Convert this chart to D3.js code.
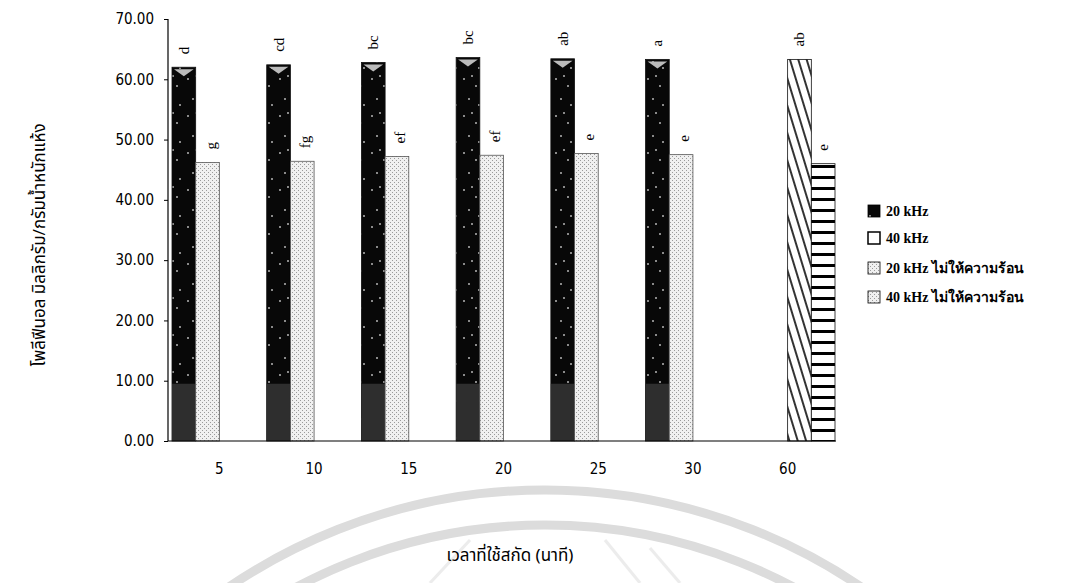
<!DOCTYPE html>
<html><head><meta charset="utf-8">
<script src="https://cdn.jsdelivr.net/npm/d3@7"></script>
<style>
body{margin:0;background:#fff;}
svg{display:block;}
</style></head>
<body>
<svg id="chart" width="1077" height="583"></svg>
<script>
// ---- data ----
const categories = ["5","10","15","20","25","30","60"];
const seriesNames = ["20 kHz","40 kHz","20 kHz ไม่ให้ความร้อน","40 kHz ไม่ให้ความร้อน"];
const values20 = [62.0, 62.4, 62.8, 63.6, 63.4, 63.3, null];
const values40 = [46.2, 46.4, 47.2, 47.4, 47.7, 47.5, null];
const values20NoHeat = [null, null, null, null, null, null, 63.3];
const values40NoHeat = [null, null, null, null, null, null, 46.0];
const labels20 = ["d","cd","bc","bc","ab","a",""];
const labels40 = ["g","fg","ef","ef","e","e",""];
const labels20NoHeat = ["","","","","","","ab"];
const labels40NoHeat = ["","","","","","","e"];
const yTicks = [0,10,20,30,40,50,60,70];
const yTitle = "โพลีฟีนอล มิลลิกรัม/กรัมน้ำหนักแห้ง";
const xTitle = "เวลาที่ใช้สกัด (นาที)";

const allValues = [values20, values40, values20NoHeat, values40NoHeat];
const allLabels = [labels20, labels40, labels20NoHeat, labels40NoHeat];

const svg = d3.select("#chart");
const defs = svg.append("defs");

// patterns
const pDark = defs.append("pattern").attr("id","pDark").attr("patternUnits","userSpaceOnUse").attr("width",23).attr("height",37);
pDark.append("rect").attr("width",23).attr("height",37).attr("fill","#080808");
[[3,4],[15,11],[8,24],[18,30],[11,1]].forEach(([x,y])=>pDark.append("rect").attr("x",x).attr("y",y).attr("width",2).attr("height",2).attr("fill","#8a8a8a"));

const pLight = defs.append("pattern").attr("id","pLight").attr("patternUnits","userSpaceOnUse").attr("width",4).attr("height",4);
pLight.append("rect").attr("width",4).attr("height",4).attr("fill","#f0f0f0");
[[0,0],[2,2]].forEach(([x,y])=>pLight.append("rect").attr("x",x).attr("y",y).attr("width",1).attr("height",1).attr("fill","#9a9a9a"));

const pDiag = defs.append("pattern").attr("id","pDiag").attr("patternUnits","userSpaceOnUse").attr("width",8).attr("height",10)
  .attr("patternTransform","rotate(-17)");
pDiag.append("rect").attr("width",8).attr("height",10).attr("fill","#fff");
pDiag.append("line").attr("x1",2).attr("y1",0).attr("x2",2).attr("y2",10).attr("stroke","#000").attr("stroke-width",1.6);

const pHoriz = defs.append("pattern").attr("id","pHoriz").attr("patternUnits","userSpaceOnUse").attr("width",10).attr("height",11);
pHoriz.append("rect").attr("width",10).attr("height",11).attr("fill","#fff");
pHoriz.append("rect").attr("y",0).attr("width",10).attr("height",3).attr("fill","#000");

const fills = ["url(#pDark)","url(#pLight)","url(#pDiag)","url(#pHoriz)"];
const legendFills = ["url(#pDark)","#fff","url(#pLight)","url(#pLight)"];

// watermark arcs
const wm = svg.append("g").attr("fill","none").attr("stroke","#dcdcdc");
wm.append("circle").attr("cx",545).attr("cy",1053).attr("r",563).attr("stroke-width",9);
wm.append("circle").attr("cx",545).attr("cy",1053).attr("r",528).attr("stroke-width",9);
[[430,583,470,540],[640,583,605,540],[680,583,650,548]].forEach(([x1,y1,x2,y2])=>
  wm.append("line").attr("x1",x1).attr("y1",y1).attr("x2",x2).attr("y2",y2).attr("stroke-width",3).attr("stroke","#ececec"));

// scales
const x = d3.scaleBand().domain(categories).range([172, 835]).padding(0);
const xs = d3.scaleBand().domain(d3.range(4)).range([0, x.bandwidth()]).padding(0);
const y = d3.scaleLinear().domain([0,70]).range([441,19]);

// bars
const g = svg.append("g");
allValues.forEach((vals, si) => {
  categories.forEach((c, ci) => {
    const v = vals[ci];
    if (v == null) return;
    const bx = x(c) + xs(si), bw = xs.bandwidth();
    g.append("rect").attr("x",bx).attr("y",y(v)).attr("width",bw).attr("height",y(0)-y(v))
      .attr("fill",fills[si]).attr("stroke", si===1 ? "#555" : "#111").attr("stroke-width",0.8);
    if (si === 0) {
      g.append("rect").attr("x",bx).attr("y",y(9.5)).attr("width",bw).attr("height",y(0)-y(9.5)).attr("fill","#2e2e2e");
      g.append("path").attr("d",`M${bx+2},${y(v)+2}L${bx+bw-2},${y(v)+2}L${bx+bw/2},${y(v)+9}Z`).attr("fill","#bbb");
    }
    const lab = allLabels[si][ci];
    if (lab) {
      g.append("text").attr("transform",`translate(${bx+bw/2 + (si===1?3:0)},${y(v)-13}) rotate(-90)`)
        .attr("text-anchor","start").attr("dominant-baseline","central")
        .attr("font-family","Liberation Serif, serif").attr("font-size",15).attr("fill","#000").text(lab);
    }
  });
});

// axes
const yAxis = d3.axisLeft(y).tickValues(yTicks).tickSize(4).tickFormat(d3.format(".2f"));
const ya = svg.append("g").attr("transform","translate(168,0)").call(yAxis);
ya.select(".domain").attr("stroke","#000").attr("stroke-width",1.2).attr("d","M0,19V441");
ya.selectAll("text").attr("font-family","Liberation Sans Narrow, DejaVu Sans Condensed, sans-serif").attr("font-size",15).attr("fill","#000").attr("x",-14);

const xAxis = d3.axisBottom(x).tickSize(0).tickPadding(0);
const xa = svg.append("g").attr("transform","translate(0,441)").call(xAxis);
xa.select(".domain").attr("stroke","#000").attr("stroke-width",1.2).attr("d","M168,0H836");
xa.selectAll("text").attr("font-family","Liberation Sans Narrow, DejaVu Sans Condensed, sans-serif").attr("font-size",15).attr("fill","#000").attr("dy","0").attr("y",33);

// titles
svg.append("text").attr("transform","translate(40,245) rotate(-90)").attr("text-anchor","middle")
  .attr("dominant-baseline","central").attr("font-family","Noto Sans Thai, Liberation Serif, serif").attr("font-size",17).attr("fill","#000").text(yTitle);
svg.append("text").attr("x",510).attr("y",561).attr("text-anchor","middle")
  .attr("font-family","Noto Sans Thai, Liberation Serif, serif").attr("font-size",17).attr("fill","#000").text(xTitle);

// legend
const legY = [211, 238, 268, 297];
const lg = svg.append("g");
seriesNames.forEach((n, i) => {
  lg.append("rect").attr("x",868).attr("y",legY[i]-6).attr("width",12).attr("height",12)
    .attr("fill",legendFills[i]).attr("stroke","#000").attr("stroke-width", i===1?1.5:0.8);
  lg.append("text").attr("x",886).attr("y",legY[i]).attr("dominant-baseline","central")
    .attr("font-family","Liberation Serif, serif").attr("font-size",14).attr("font-weight","bold").attr("fill","#000").text(n);
});
</script>
</body></html>
